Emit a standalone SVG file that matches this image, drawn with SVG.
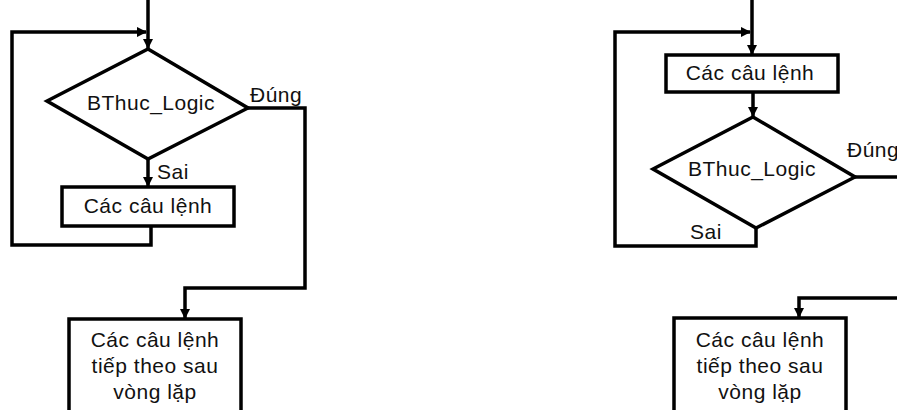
<svg xmlns="http://www.w3.org/2000/svg" width="897" height="410" viewBox="0 0 897 410">
<defs>
<style>
.shape{fill:#fff;stroke:#000;stroke-width:3.5;stroke-linejoin:miter}
.conn{fill:none;stroke:#000;stroke-width:3.5;stroke-linejoin:miter}
text{font-family:"Liberation Sans",Arial,sans-serif;font-size:21px;fill:#111;letter-spacing:0.5px}
.c{text-anchor:middle}
.lbl{font-size:19px}
</style>
<marker id="ah" viewBox="0 0 10 10" refX="9" refY="5" markerWidth="3" markerHeight="3" orient="auto" markerUnits="strokeWidth">
<path d="M0,0 L10,5 L0,10 z" fill="#000"/>
</marker>
</defs>
<rect width="897" height="410" fill="#fff"/>
<g id="connectors">
<path class="conn" d="M148,0 V48" marker-end="url(#ah)"/>
<path class="conn" d="M151,226 V245 H12 V32 H146" marker-end="url(#ah)"/>
<path class="conn" d="M148,159 V186" marker-end="url(#ah)"/>
<path class="conn" d="M248,108 H305 V288 H185 V318" marker-end="url(#ah)"/>
<path class="conn" d="M752,0 V54" marker-end="url(#ah)"/>
<path class="conn" d="M753,92 V116" marker-end="url(#ah)"/>
<path class="conn" d="M756,228 V246 H615 V32 H750" marker-end="url(#ah)"/>
<path class="conn" d="M855,177 H897"/>
<path class="conn" d="M897,298 H799 V317" marker-end="url(#ah)"/>
</g>
<g id="left-cond">
<polygon class="shape" points="148,49 248,108 148,159 47,101"/>
<text class="c" x="151" y="110">BThuc_Logic</text>
</g>
<g id="left-body">
<rect class="shape" x="62" y="187" width="172" height="39"/>
<text class="c" x="148" y="213">Các câu lệnh</text>
</g>
<g id="left-next">
<rect class="shape" x="69" y="319" width="172" height="110"/>
<text class="c" x="155" y="347">Các câu lệnh</text>
<text class="c" x="155" y="373">tiếp theo sau</text>
<text class="c" x="155" y="399">vòng lặp</text>
</g>
<g id="left-labels">
<text x="250" y="102">Đúng</text>
<text x="157" y="179">Sai</text>
</g>
<g id="right-body">
<rect class="shape" x="666" y="55" width="172" height="37"/>
<text class="c" x="750" y="80">Các câu lệnh</text>
</g>
<g id="right-cond">
<polygon class="shape" points="753,117 855,177 756,228 653,169"/>
<text class="c" x="752" y="176">BThuc_Logic</text>
</g>
<g id="right-next">
<rect class="shape" x="674" y="318" width="172" height="110"/>
<text class="c" x="760" y="347">Các câu lệnh</text>
<text class="c" x="760" y="373">tiếp theo sau</text>
<text class="c" x="760" y="399">vòng lặp</text>
</g>
<g id="right-labels">
<text x="847" y="157">Đúng</text>
<text x="690" y="239">Sai</text>
</g>
</svg>
